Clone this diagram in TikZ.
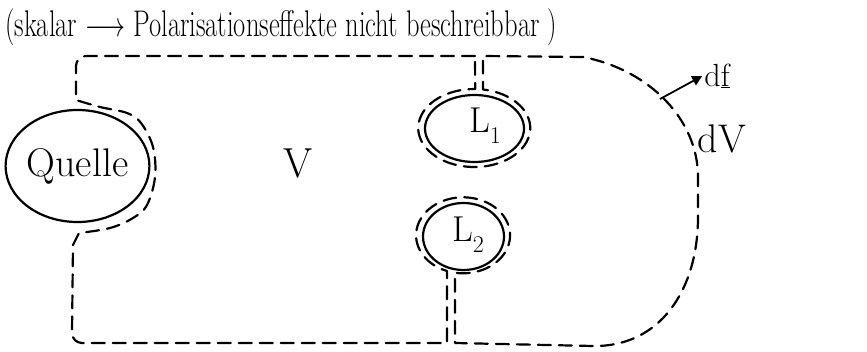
\documentclass[tikz,border=0pt]{standalone}
\usetikzlibrary{shapes.geometric,arrows.meta}
\begin{document}
\begin{tikzpicture}[x=1pt,y=1pt,
  bnd/.style={line width=2.2pt, dash pattern=on 13pt off 8pt, line cap=round, line join=round},
  solidline/.style={line width=2.2pt},
  lbl/.style={inner sep=0pt}]
\useasboundingbox (0,0) rectangle (867,-351);

\node[lbl, anchor=west, font=\fontsize{26.5}{30}\selectfont] (title) at (5,-27)
  {\scalebox{1}[1.4]{(skalar $\longrightarrow$ Polarisationseffekte nicht beschreibbar )}};

\node[ellipse, draw, solidline, minimum width=141pt, minimum height=112pt, inner sep=0pt,
  font=\fontsize{40}{44}\selectfont] (quelle) at (77.5,-166) {Quelle};

\node[lbl, font=\fontsize{42}{46}\selectfont] (vol) at (298,-163) {V};

\node[ellipse, draw, solidline, minimum width=99pt, minimum height=67pt, inner sep=0pt] (l1) at (474.5,-128.5) {};
\node[lbl, font=\fontsize{36}{40}\selectfont] (l1txt) at (485,-126)
  {L\raisebox{-0.3em}{\fontsize{24}{26}\selectfont 1}};

\node[ellipse, draw, solidline, minimum width=81pt, minimum height=67pt, inner sep=0pt] (l2) at (463.5,-236.5) {};
\node[lbl, font=\fontsize{36}{40}\selectfont] (l2txt) at (468,-235)
  {L\raisebox{-0.3em}{\fontsize{24}{26}\selectfont 2}};

\draw[bnd] (475,-56) -- (86,-56) to[out=180,in=90] (76,-66) -- (76,-98)
  -- plot[smooth, tension=0.6] coordinates {(76,-100) (100,-107) (127,-113) (141,-123) (153,-147) (155,-177) (147,-205) (133,-218) (110,-228) (79,-233)}
  -- (73,-245) -- (72,-333) to[out=-90,in=180] (82,-343) -- (447,-343) -- (447,-271)
  arc[start angle=250, end angle=-100, x radius=47, y radius=38]
  -- (455,-343) -- (593,-346)
  .. controls (660,-347) and (698,-290) .. (698,-217) -- (698,-177)
  .. controls (698,-120) and (650,-70) .. (583,-57) -- (483,-56) -- (483,-89.5)
  arc[start angle=81, end angle=-271, x radius=56, y radius=39] -- cycle;

\node[lbl, font=\fontsize{32}{36}\selectfont] (df) at (717,-76) {d\underline{f}};
\coordinate (dfs) at (660,-99);
\draw[line width=1.8pt, -{Triangle[length=10pt,width=10pt]}] (dfs) -- ([xshift=-2pt]df.west);

\node[lbl, font=\fontsize{40}{44}\selectfont] (dv) at (722,-139) {dV};
\end{tikzpicture}
\end{document}
